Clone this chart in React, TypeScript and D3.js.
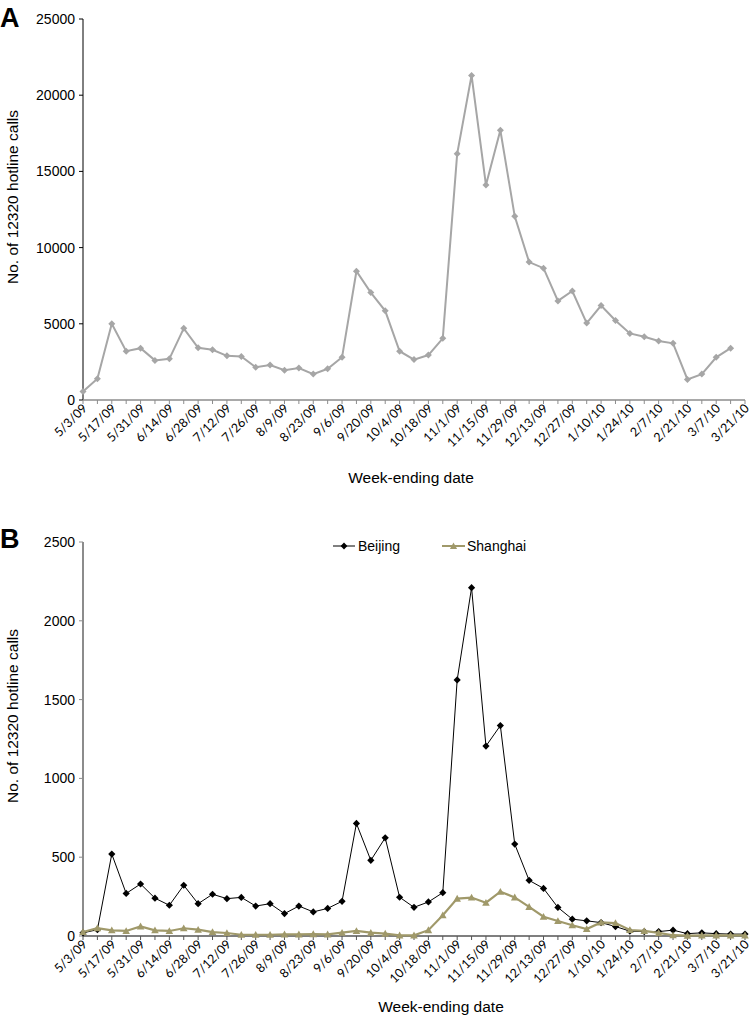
import React from "react";
import * as d3 from "d3";

const weeks = [
  "5/3/09","5/10/09","5/17/09","5/24/09","5/31/09","6/7/09","6/14/09","6/21/09","6/28/09","7/5/09",
  "7/12/09","7/19/09","7/26/09","8/2/09","8/9/09","8/16/09","8/23/09","8/30/09","9/6/09","9/13/09",
  "9/20/09","9/27/09","10/4/09","10/11/09","10/18/09","10/25/09","11/1/09","11/8/09","11/15/09","11/22/09",
  "11/29/09","12/6/09","12/13/09","12/20/09","12/27/09","1/3/10","1/10/10","1/17/10","1/24/10","1/31/10",
  "2/7/10","2/14/10","2/21/10","2/28/10","3/7/10","3/14/10","3/21/10"
];

const nationalCalls = [
  550, 1400, 5000, 3200, 3400, 2600, 2700, 4700, 3430, 3300,
  2900, 2850, 2150, 2300, 1950, 2100, 1700, 2050, 2800, 8450,
  7050, 5850, 3200, 2650, 2950, 4050, 16150, 21300, 14100, 17700,
  12050, 9050, 8650, 6500, 7150, 5050, 6200, 5220, 4370, 4150,
  3870, 3720, 1350, 1700, 2800, 3400
];

const beijingCalls = [
  20, 40, 520, 270, 330, 240, 195, 322, 205, 265,
  237, 245, 190, 205, 142, 190, 153, 175, 220, 714,
  480, 623, 246, 182, 216, 275, 1625, 2210, 1205, 1335,
  583, 353, 302, 181, 107, 96, 85, 60, 31, 28,
  28, 37, 15, 20, 15, 12, 12
];

const shanghaiCalls = [
  25, 50, 36, 32, 61, 36, 32, 49, 40, 25,
  19, 8, 8, 8, 10, 10, 12, 10, 21, 32,
  21, 15, 4, 4, 37, 132, 237, 244, 211, 281,
  245, 185, 122, 95, 68, 44, 86, 82, 38, 32,
  20, 5, 2, 4, 4, 4, 4
];

const ticksA = [0, 5000, 10000, 15000, 20000, 25000];
const ticksB = [0, 500, 1000, 1500, 2000, 2500];

const AX = "Liberation Sans, Arial, sans-serif";
const LBL = "Lato, 'Open Sans', sans-serif";

const x = d3.scaleLinear().domain([0, weeks.length - 1]).range([83, 745]);

function diamond(cx: number, cy: number, r: number) {
  return `M${cx},${cy - r}L${cx + r},${cy}L${cx},${cy + r}L${cx - r},${cy}Z`;
}
function triangle(cx: number, cy: number, r: number) {
  return `M${cx},${cy - r}L${cx + r},${cy + r * 0.8}L${cx - r},${cy + r * 0.8}Z`;
}

function XAxis({ y0, color }: { y0: number; color: string }) {
  return (
    <g>
      <line x1={83} x2={745} y1={y0} y2={y0} stroke={color} strokeWidth={1.5} />
      {weeks.map((w, i) => (
        <line key={i} x1={x(i)} x2={x(i)} y1={y0} y2={y0 + 4} stroke={color} strokeWidth={1} />
      ))}
      {weeks.map((w, i) =>
        i % 2 === 0 ? (
          <text
            key={"l" + i}
            transform={`translate(${x(i) + 5},${y0 + 9}) rotate(-45)`}
            textAnchor="end"
            fontFamily={LBL}
            fontSize={12.5}
            fill="#000"
          >
            {w}
          </text>
        ) : null
      )}
    </g>
  );
}

function YAxis({ y, ticks, color, width }: { y: d3.ScaleLinear<number, number>; ticks: number[]; color: string; width: number }) {
  return (
    <g>
      <line x1={83} x2={83} y1={y(ticks[ticks.length - 1])} y2={y(0)} stroke={color} strokeWidth={width} />
      {ticks.map((t) => (
        <g key={t}>
          <line x1={79} x2={83} y1={y(t)} y2={y(t)} stroke={color} strokeWidth={1} />
          <text x={75} y={y(t)} dy="0.35em" textAnchor="end" fontFamily={AX} fontSize={14} fill="#000">
            {t}
          </text>
        </g>
      ))}
    </g>
  );
}

export default function App() {
  const yA = d3.scaleLinear().domain([0, 25000]).range([400, 19]);
  const yB = d3.scaleLinear().domain([0, 2500]).range([936, 542]);

  const lineA = d3.line<number>().x((d, i) => x(i)).y((d) => yA(d));
  const lineB = d3.line<number>().x((d, i) => x(i)).y((d) => yB(d));

  const grayA = "#a6a6a6";
  const olive = "#a0996a";

  return (
    <svg width={751} height={1016} style={{ position: "absolute", left: 0, top: 0, background: "#fff" }}>
      {/* Panel A */}
      <text x={0} y={27} fontFamily={AX} fontSize={27} fontWeight="bold">A</text>
      <YAxis y={yA} ticks={ticksA} color="#000" width={1} />
      <XAxis y0={400} color="#8c8c8c" />
      <text transform="translate(18,197) rotate(-90)" textAnchor="middle" fontFamily={AX} fontSize={15.5}>
        No. of 12320 hotline calls
      </text>
      <text x={411} y={483} textAnchor="middle" fontFamily={AX} fontSize={15.5}>Week-ending date</text>
      <path d={lineA(nationalCalls) || ""} fill="none" stroke={grayA} strokeWidth={2} />
      {nationalCalls.map((v, i) => (
        <path key={i} d={diamond(x(i), yA(v), 3.5)} fill={grayA} />
      ))}

      {/* Panel B */}
      <text x={0} y={548} fontFamily={AX} fontSize={27} fontWeight="bold">B</text>
      <YAxis y={yB} ticks={ticksB} color="#8c8c8c" width={2} />
      <XAxis y0={936} color="#555" />
      <text transform="translate(18,716) rotate(-90)" textAnchor="middle" fontFamily={AX} fontSize={15.5}>
        No. of 12320 hotline calls
      </text>
      <text x={441} y={1012} textAnchor="middle" fontFamily={AX} fontSize={15.5}>Week-ending date</text>

      <path d={lineB(beijingCalls) || ""} fill="none" stroke="#000" strokeWidth={1} />
      {beijingCalls.map((v, i) => (
        <path key={"b" + i} d={diamond(x(i), yB(v), 3.6)} fill="#000" />
      ))}
      <path d={lineB(shanghaiCalls) || ""} fill="none" stroke={olive} strokeWidth={2.2} />
      {shanghaiCalls.map((v, i) => (
        <path key={"s" + i} d={triangle(x(i), yB(v), 3.8)} fill={olive} />
      ))}

      {/* Legend */}
      <line x1={333} x2={355} y1={546} y2={546} stroke="#000" strokeWidth={1} />
      <path d={diamond(344, 546, 3.4)} fill="#000" />
      <text x={358} y={546} dy="0.35em" fontFamily={AX} fontSize={14}>Beijing</text>
      <line x1={442} x2={465} y1={546} y2={546} stroke={olive} strokeWidth={2} />
      <path d={triangle(453.5, 546, 3.6)} fill={olive} />
      <text x={467} y={546} dy="0.35em" fontFamily={AX} fontSize={14}>Shanghai</text>
    </svg>
  );
}
